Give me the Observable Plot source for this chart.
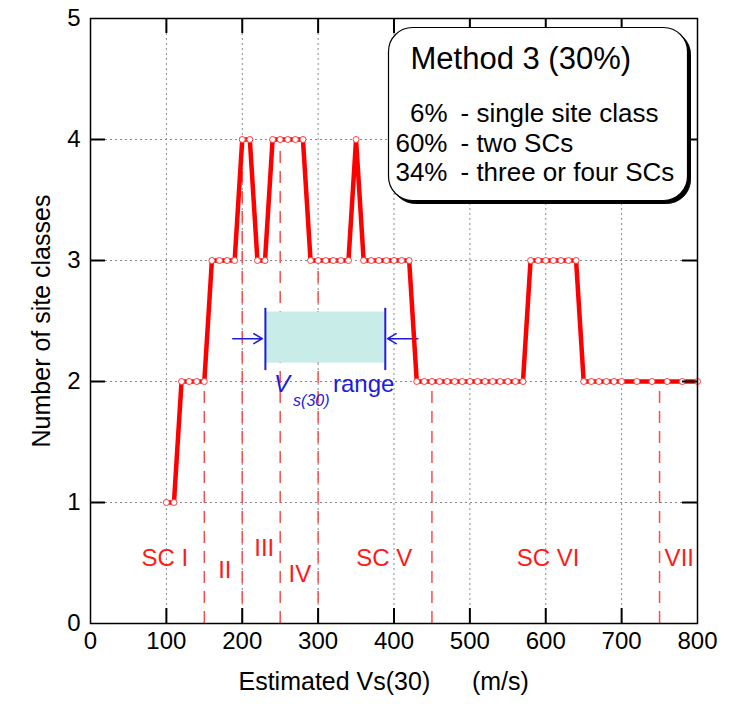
<!DOCTYPE html>
<html><head><meta charset="utf-8">
<script src="https://cdn.jsdelivr.net/npm/d3@7"></script>
<script src="https://cdn.jsdelivr.net/npm/@observablehq/plot@0.6"></script>
<style>body{margin:0;background:#fff}#chart{width:731px;height:704px}</style>
</head><body><div id="chart"></div>
<script>
// ---- data ----
const vs30 = [100,110,120,130,140,150,160,170,180,190,200,210,220,230,240,250,260,270,280,
  290,300,310,320,330,340,350,360,370,380,390,400,410,420,
  430,440,450,460,470,480,490,500,510,520,530,540,550,560,570,
  580,590,600,610,620,630,640,650,660,670,680,690,700,720,740,760,780,800];
const numSC = [1,1,2,2,2,2,3,3,3,3,4,4,3,3,4,4,4,4,4,
  3,3,3,3,3,3,4,3,3,3,3,3,3,3,
  2,2,2,2,2,2,2,2,2,2,2,2,2,2,2,
  3,3,3,3,3,3,3,2,2,2,2,2,2,2,2,2,2,2];
const xTicks = [0,100,200,300,400,500,600,700,800];
const yTicks = [0,1,2,3,4,5];
const classBounds = [150,200,250,300,450,750];
const scLabels = ["SC I","II","III","IV","SC V","SC VI","VII"];
const scLabelX = [98,177,229,276,387,603,776];
const scLabelY = [0.54,0.44,0.62,0.41,0.535,0.54,0.54];
const vsRange = [230.5,388.5];
const legendTitle = "Method 3 (30%)";
const legendPct = ["6%","60%","34%"];
const legendDesc = ["- single site class","- two SCs","- three or four SCs"];

// ---- layout ----
const W = 731, H = 704, mL = 90, mR = 34, mT = 18, mB = 81;
const pw = W - mL - mR, ph = H - mT - mB;
const RED = "#ff0000", BLUE = "#1c1cdc";

const pts = vs30.map((x, i) => ({x, y: numSC[i]}));
const valueAt = b => { let v = numSC[0]; vs30.forEach((x, i) => { if (x <= b) v = numSC[i]; }); return v; };
const bounds = classBounds.map(b => ({x: b, y: valueAt(b)}));
const labels = scLabels.map((t, i) => ({t, x: scLabelX[i], y: scLabelY[i]}));
const inner = xTicks.slice(1, -1), innerY = yTicks.slice(1, -1);

const chart = Plot.plot({
  width: W, height: H, marginLeft: mL, marginRight: mR, marginTop: mT, marginBottom: mB,
  x: {domain: [0, 800]}, y: {domain: [0, 5]},
  style: {fontFamily: "'Liberation Sans', Arial, sans-serif", fontSize: "24px", color: "#000", background: "#fff"},
  marks: [
    Plot.ruleX(inner, {stroke: "#888", strokeDasharray: "2,3", strokeWidth: 1}),
    Plot.ruleY(innerY, {stroke: "#888", strokeDasharray: "2,3", strokeWidth: 1}),
    Plot.ruleX(bounds, {x: "x", y1: 0, y2: "y", stroke: "#ff4a4a", strokeWidth: 1.5, strokeDasharray: "12,8"}),
    Plot.rect([vsRange], {x1: d => d[0] + 1, x2: d => d[1] - 1, y1: 2.152, y2: 2.574, fill: "#c8ece8"}),
    Plot.ruleX(vsRange, {x: d => d, y1: 2.09, y2: 2.605, stroke: BLUE, strokeWidth: 2}),
    Plot.arrow([vsRange], {x1: d => d[0] - 43, x2: d => d[0] - 4, y1: 2.354, y2: 2.354, stroke: BLUE, strokeWidth: 1.5, headLength: 10}),
    Plot.arrow([vsRange], {x1: d => d[1] + 43, x2: d => d[1] + 3, y1: 2.354, y2: 2.354, stroke: BLUE, strokeWidth: 1.5, headLength: 10}),
    Plot.text(["V"], {x: 241.8, y: 1.973, textAnchor: "start", fontStyle: "italic", fontSize: 24, fill: BLUE}),
    Plot.text(["s(30)"], {x: 267, y: 1.84, textAnchor: "start", fontStyle: "italic", fontSize: 16, fill: BLUE}),
    Plot.text(["range"], {x: 319.6, y: 1.973, textAnchor: "start", fontSize: 24, fill: BLUE}),
    Plot.line(pts, {x: "x", y: "y", stroke: RED, strokeWidth: 4.5}),
    Plot.dot(pts, {x: "x", y: "y", r: 3, fill: "#fff", stroke: "#ff3a3a", strokeWidth: 1}),
    Plot.text(labels, {x: "x", y: "y", text: "t", fill: "#ff1a1a", fontSize: 24}),
    Plot.tickX(inner, {x: d => d, insetTop: ph - 15, stroke: "#000", strokeWidth: 2}),
    Plot.tickX(inner, {x: d => d, insetBottom: ph - 15, stroke: "#000", strokeWidth: 2}),
    Plot.tickY(innerY, {y: d => d, insetRight: pw - 15, stroke: "#000", strokeWidth: 2}),
    Plot.tickY(innerY, {y: d => d, insetLeft: pw - 15, stroke: "#000", strokeWidth: 2}),
    Plot.frame({stroke: "#000", strokeWidth: 1.5}),
    Plot.axisX({ticks: xTicks, tickSize: 0, tickPadding: 8, label: null, fontSize: 24, tickFormat: d3.format("d")}),
    Plot.axisY({ticks: yTicks, tickSize: 0, tickPadding: 10, label: null, fontSize: 24, tickFormat: d3.format("d")}),
    Plot.text(["Estimated Vs(30)\u00A0\u00A0\u00A0\u00A0\u00A0\u00A0(m/s)"], {frameAnchor: "bottom-left", textAnchor: "start", dx: 148, dy: 66, fontSize: 25}),
    Plot.text(["Number of site classes"], {frameAnchor: "left", textAnchor: "middle", rotate: -90, dx: -49, dy: 0, fontSize: 25}),
    // legend box
    Plot.frame({insetLeft: 301, insetRight: 7, insetTop: 12, insetBottom: 420, rx: 24, fill: "#000", stroke: "#000"}),
    Plot.frame({insetLeft: 298, insetRight: 10, insetTop: 9, insetBottom: 423, rx: 24, fill: "#fff", stroke: "#000", strokeWidth: 1.2}),
    Plot.text([legendTitle], {frameAnchor: "top-left", textAnchor: "start", lineAnchor: "top", dx: 320, dy: 28, fontSize: 31}),
    Plot.text([legendPct.join("\n")], {frameAnchor: "top-left", textAnchor: "end", lineAnchor: "top", dx: 357, dy: 83, fontSize: 26, lineHeight: 1.135}),
    Plot.text([legendDesc.join("\n")], {frameAnchor: "top-left", textAnchor: "start", lineAnchor: "top", dx: 370, dy: 83, fontSize: 26, lineHeight: 1.135})
  ]
});
document.getElementById("chart").appendChild(chart);
</script>
</body></html>
